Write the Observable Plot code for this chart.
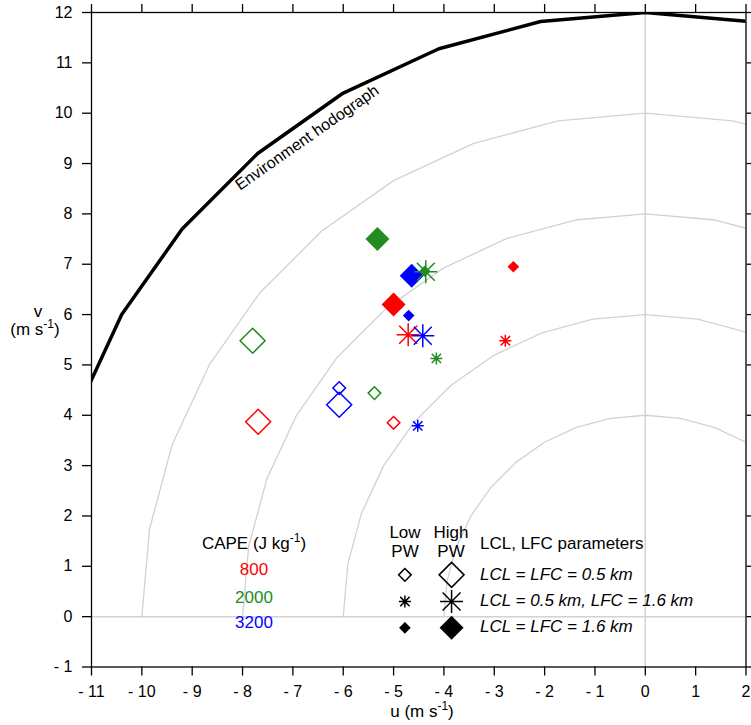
<!DOCTYPE html>
<html>
<head>
<meta charset="utf-8">
<script src="https://cdn.jsdelivr.net/npm/d3@7"></script>
<script src="https://cdn.jsdelivr.net/npm/@observablehq/plot@0.6"></script>
<style>
  body { margin: 0; background: #fff; }
</style>
</head>
<body>
<div id="chart"></div>
<script>
const FONT = '"Liberation Sans", Arial, Helvetica, sans-serif';

// ---- data ----
// Environment hodograph vertices (u, v) in m/s
const envU = [-12.00, -11.82, -11.28, -10.40, -9.20, -7.70, -6.00, -4.10, -2.08, 0.00, 2.08, 4.10];
const envV = [0.00, 2.08, 4.10, 6.00, 7.70, 9.20, 10.40, 11.28, 11.82, 12.00, 11.82, 11.28];
const envLabel = "Environment hodograph";

// Grey speed rings (grid): speeds and vertex bearings
const ringSpeeds = [4, 6, 8, 10];
const ringAngles = [0, 10, 20, 30, 40, 50, 60, 70, 80, 90, 100, 110, 120, 130, 140, 150, 160, 170, 180];

const capeValues = [800, 2000, 3200];
const capeColors = ["#ff0000", "#228b22", "#0000ff"];
const pwLevels = ["Low", "High"];
const paramLabels = ["LCL = LFC = 0.5 km", "LCL = 0.5 km, LFC = 1.6 km", "LCL = LFC = 1.6 km"];

// Storm motions; order per CAPE:
// [open low, open high, asterisk low, asterisk high, filled low, filled high]
const stormU800  = [-5.00, -7.69, -2.78, -4.71, -2.62, -5.00];
const stormV800  = [ 3.85,  3.87,  5.48,  5.60,  6.95,  6.20];
const stormU2000 = [-5.38, -7.80, -4.15, -4.36, -4.38, -5.32];
const stormV2000 = [ 4.44,  5.48,  5.13,  6.85,  6.86,  7.50];
const stormU3200 = [-6.08, -6.08, -4.52, -4.42, -4.70, -4.64];
const stormV3200 = [ 4.54,  4.21,  3.79,  5.58,  5.98,  6.77];

const xTicks = [-11, -10, -9, -8, -7, -6, -5, -4, -3, -2, -1, 0, 1, 2];
const yTicks = [-1, 0, 1, 2, 3, 4, 5, 6, 7, 8, 9, 10, 11, 12];

// ---- derived tables ----
const envRows = envU.map((u, i) => ({u, v: envV[i]}));
const ringRows = ringSpeeds.flatMap(s => ringAngles.map(a => ({
  s, u: s * Math.cos(a * Math.PI / 180), v: s * Math.sin(a * Math.PI / 180)
})));
const stormU = [stormU800, stormU2000, stormU3200];
const stormV = [stormV800, stormV2000, stormV3200];
const stormRows = capeValues.flatMap((cape, ci) => stormU[ci].map((u, j) => ({
  cape, color: capeColors[ci], param: Math.floor(j / 2), pw: j % 2, u, v: stormV[ci][j]
})));

// ---- symbols ----
const diamond = {
  draw(ctx, size) {
    const r = Math.sqrt(size / Math.PI);
    ctx.moveTo(0, -r); ctx.lineTo(r, 0); ctx.lineTo(0, r); ctx.lineTo(-r, 0); ctx.closePath();
  }
};
const asterisk = {
  draw(ctx, size) {
    const r = Math.sqrt(size / Math.PI), d = r * 0.78;
    ctx.moveTo(-r, 0); ctx.lineTo(r, 0);
    ctx.moveTo(0, -r); ctx.lineTo(0, r);
    ctx.moveTo(-d, -d); ctx.lineTo(d, d);
    ctx.moveTo(-d, d); ctx.lineTo(d, -d);
  }
};
// marker size by [param][pw]
const markerR = [[6.3, 12.5], [6, 11.5], [5.8, 12]];

function markerMarks(rows, colorOf) {
  const marks = [];
  for (const param of [0, 2, 1]) {
    for (const pw of [0, 1]) {
      const sub = rows.filter(d => d.param === param && d.pw === pw);
      const r = markerR[param][pw];
      if (param === 0) {
        marks.push(Plot.dot(sub, {x: "u", y: "v", r, symbol: diamond, fill: "none", stroke: colorOf, strokeWidth: 1.5}));
      } else if (param === 1) {
        marks.push(Plot.dot(sub, {x: "u", y: "v", r, symbol: asterisk, fill: "none", stroke: colorOf, strokeWidth: 1.5}));
      } else {
        marks.push(Plot.dot(sub, {x: "u", y: "v", r, symbol: diamond, fill: colorOf, stroke: "none"}));
      }
    }
  }
  return marks;
}

// legend marker anchors (data units)
const legendX = [-4.775, -3.848];
const legendY = [0.83, 0.30, -0.222];
const legendRows = [0, 1, 2].flatMap(param => [0, 1].map(pw => ({param, pw, u: legendX[pw], v: legendY[param]})));

const fmt = d => d < 0 ? `- ${-d}` : `${d}`;

const plot = Plot.plot({
  width: 751,
  height: 725,
  marginLeft: 91,
  marginRight: 5.5,
  marginTop: 12,
  marginBottom: 58.5,
  x: {domain: [-11, 2]},
  y: {domain: [-1, 12]},
  style: {fontFamily: FONT, background: "white", color: "black", overflow: "visible"},
  marks: [
    Plot.ruleX([0], {stroke: "#d2d2d2", strokeWidth: 1.5}),
    Plot.ruleY([0], {stroke: "#d2d2d2", strokeWidth: 1.5}),
    Plot.line(ringRows, {x: "u", y: "v", z: "s", stroke: "#d2d2d2", strokeWidth: 1.3, clip: true}),
    Plot.line(envRows, {x: "u", y: "v", stroke: "black", strokeWidth: 3.5, clip: true}),
    Plot.text([envLabel], {x: () => -6.66, y: () => 9.43, text: d => d, rotate: -35, fontSize: 16, lineAnchor: "bottom", textAnchor: "middle", fill: "black"}),
    ...markerMarks(stormRows, "color"),
    ...markerMarks(legendRows, "black"),
    Plot.frame({stroke: "black", strokeWidth: 1.3}),
    Plot.axisX({ticks: xTicks, anchor: "bottom", tickSize: 9, tickPadding: 10, tickFormat: fmt, fontSize: 16, label: null, strokeWidth: 1.3}),
    Plot.axisX({ticks: xTicks, anchor: "top", tickSize: 9, tickFormat: () => "", label: null, strokeWidth: 1.3}),
    Plot.axisY({ticks: yTicks, anchor: "left", tickSize: 9, tickPadding: 10, tickFormat: fmt, fontSize: 16, label: null, strokeWidth: 1.3}),
    Plot.axisY({ticks: yTicks, anchor: "right", tickSize: 9, tickFormat: () => "", label: null, strokeWidth: 1.3})
  ]
});

document.getElementById("chart").appendChild(plot);

// ---- text labels with superscripts ----
const svg = d3.select(plot);
function addText(parts, x, y, {anchor = "start", size = 17, fill = "black", italic = false} = {}) {
  const t = svg.append("text")
    .attr("x", x).attr("y", y)
    .attr("text-anchor", anchor)
    .attr("font-size", size)
    .attr("font-family", FONT)
    .attr("fill", fill);
  if (italic) t.attr("font-style", "italic");
  let shift = 0;
  for (const p of parts) {
    if (typeof p === "string") {
      const s = t.append("tspan").text(p);
      if (shift) { s.attr("dy", -shift); shift = 0; }
    } else {
      t.append("tspan").attr("dy", -p.up).attr("font-size", p.size).text(p.text);
      shift = -p.up;
    }
  }
  return t;
}
const sup = {text: "-1", size: 12, up: 7};

addText(["u (m s", sup, ")"], 422, 717, {anchor: "middle"});
addText(["v"], 38, 317, {anchor: "middle"});
addText(["(m s", sup, ")"], 35, 335, {anchor: "middle"});

addText(["CAPE (J kg", sup, ")"], 254, 549, {anchor: "middle"});
const capeBaselines = [575, 602.5, 628];
capeValues.forEach((c, i) => addText([String(c)], 254, capeBaselines[i], {anchor: "middle", fill: capeColors[i]}));

const pwX = [405, 451];
pwLevels.forEach((p, i) => {
  addText([p], pwX[i], 538, {anchor: "middle"});
  addText(["PW"], pwX[i], 557, {anchor: "middle"});
});
addText(["LCL, LFC parameters"], 480, 549);
const paramBaselines = [580, 606, 632];
paramLabels.forEach((p, i) => addText([p], 480, paramBaselines[i], {italic: true}));
</script>
</body>
</html>
